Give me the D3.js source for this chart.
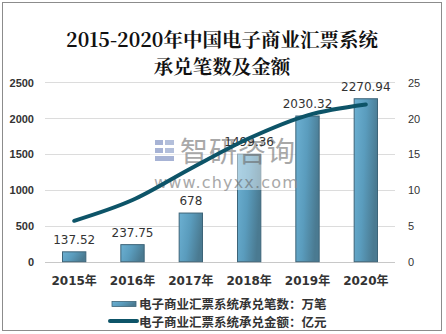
<!DOCTYPE html>
<html><head><meta charset="utf-8">
<script src="https://cdn.jsdelivr.net/npm/d3@7/dist/d3.min.js"></script>
<style>body{margin:0;background:#fff}svg{display:block}</style>
</head><body>
<script>
const categories = ["2015年","2016年","2017年","2018年","2019年","2020年"];
const countValues = [137.52, 237.75, 678, 1499.36, 2030.32, 2270.94];
const amountValues = [5.7, 8.6, 13.0, 17.2, 20.4, 21.9];
const leftTicks = [0, 500, 1000, 1500, 2000, 2500];
const rightTicks = [0, 5, 10, 15, 20, 25];
const titleLines = ["2015-2020年中国电子商业汇票系统", "承兑笔数及金额"];
const legendLabels = ["电子商业汇票系统承兑笔数：万笔", "电子商业汇票系统承兑金额：亿元"];

const W = 446, H = 334;
const svg = d3.select("body").append("svg").attr("width", W).attr("height", H);
const defs = svg.append("defs");
const g1 = defs.append("linearGradient").attr("id","barGrad").attr("x1","0").attr("x2","1").attr("y1","0").attr("y2","0.3");
g1.append("stop").attr("offset","0").attr("stop-color","#6cb0d2");
g1.append("stop").attr("offset","0.5").attr("stop-color","#5a9cbd");
g1.append("stop").attr("offset","1").attr("stop-color","#4a7a91");

svg.append("rect").attr("x",2.5).attr("y",2.5).attr("width",439).attr("height",328)
  .attr("fill","#fff").attr("stroke","#8c8c8c").attr("stroke-width",1);

const m = {left:45, right:395, top:82.3, bottom:261.7};
const x = d3.scaleBand().domain(categories).range([m.left, m.right]).paddingInner(0.6).paddingOuter(0.3);
const yL = d3.scaleLinear().domain([0,2500]).range([m.bottom, m.top]);
const yR = d3.scaleLinear().domain([0,25]).range([m.bottom, m.top]);

// title
svg.append("g").selectAll("text").data(titleLines).join("text")
  .attr("x", 222).attr("y", (d,i)=> 47 + i*26.5)
  .attr("text-anchor","middle")
  .attr("font-family","'Noto Serif CJK SC','DejaVu Serif','Noto Sans CJK SC',serif")
  .attr("font-size", 19.5).attr("font-weight","bold").attr("fill","#111")
  .text(d=>d);

// gridlines
svg.append("g").selectAll("line").data(leftTicks).join("line")
  .attr("x1", m.left).attr("x2", m.right)
  .attr("y1", d=>Math.round(yL(d))+0.5).attr("y2", d=>Math.round(yL(d))+0.5)
  .attr("stroke", d=> d===0 ? "#c8c8c8" : "#dcdcdc").attr("stroke-width",1);

// left axis
const axL = svg.append("g").attr("transform",`translate(${m.left-8},0)`)
  .call(d3.axisLeft(yL).tickValues(leftTicks).tickSize(0).tickFormat(d3.format("d")));
axL.select(".domain").remove();
axL.selectAll("text").attr("font-family","'Liberation Sans Narrow','Liberation Sans',Arial,sans-serif")
  .attr("font-size",11).attr("font-weight","bold").attr("fill","#333").attr("dy","0.35em");

// right axis
const axR = svg.append("g").attr("transform",`translate(${m.right+10},0)`)
  .call(d3.axisRight(yR).tickValues(rightTicks).tickSize(0));
axR.select(".domain").remove();
axR.selectAll("text").attr("font-family","'Liberation Sans',Arial,sans-serif")
  .attr("font-size",11).attr("fill","#333").attr("dy","0.35em");

// bars
svg.append("g").selectAll("rect").data(countValues).join("rect")
  .attr("x",(d,i)=>x(categories[i])).attr("width",x.bandwidth())
  .attr("y",d=>yL(d)).attr("height",d=>yL(0)-yL(d))
  .attr("fill","url(#barGrad)").attr("stroke","#3d6478").attr("stroke-width",1);

// watermark
const wm = svg.append("g").attr("opacity",0.75);
wm.append("rect").attr("x",150).attr("y",132).attr("width",145).attr("height",58).attr("fill","#fff").attr("opacity",0.6);
wm.append("rect").attr("x",155).attr("y",140).attr("width",8).attr("height",5).attr("fill","#8a9ac8");
wm.append("rect").attr("x",155).attr("y",148).attr("width",8).attr("height",5).attr("fill","#8a9ac8");
wm.append("rect").attr("x",165).attr("y",140).attr("width",9).attr("height",5).attr("fill","#9aaad0");
wm.append("rect").attr("x",165).attr("y",148).attr("width",9).attr("height",5).attr("fill","#9aaad0");
wm.append("rect").attr("x",155).attr("y",156).attr("width",19).attr("height",5).attr("fill","#8a9ac8");
wm.append("text").attr("x",180).attr("y",162).attr("font-family","'Noto Sans CJK SC',sans-serif")
  .attr("font-size",28).attr("fill","#8c8c8c").attr("letter-spacing",1).text("智研咨询");
wm.append("text").attr("x",154).attr("y",188).attr("font-family","'DejaVu Sans',sans-serif")
  .attr("font-size",16).attr("fill","#8c8c8c").attr("letter-spacing",1.2).text("www.chyxx.com");

// bar labels
svg.append("g").selectAll("text").data(countValues).join("text")
  .attr("x",(d,i)=>x(categories[i])+x.bandwidth()/2).attr("y",d=>yL(d)-8)
  .attr("text-anchor","middle")
  .attr("font-family","'DejaVu Sans',sans-serif").attr("font-size",12).attr("fill","#333")
  .text(d=>d);

// line
const line = d3.line().x((d,i)=>x(categories[i])+x.bandwidth()/2).y(d=>yR(d)).curve(d3.curveCatmullRom.alpha(0.5));
svg.append("path").datum(amountValues).attr("d",line).attr("fill","none")
  .attr("stroke","#0d5468").attr("stroke-width",4).attr("stroke-linecap","round");

// x labels
svg.append("g").selectAll("text").data(categories).join("text")
  .attr("x",d=>x(d)+x.bandwidth()/2).attr("y",285).attr("text-anchor","middle")
  .attr("font-family","'DejaVu Sans','Noto Sans CJK SC',sans-serif").attr("font-size",12)
  .attr("font-weight","bold").attr("fill","#333").text(d=>d);

// legend
const lg = svg.append("g");
lg.append("rect").attr("x",112).attr("y",301.5).attr("width",24).attr("height",5)
  .attr("fill","url(#barGrad)").attr("stroke","#3d6478").attr("stroke-width",0.8);
lg.append("line").attr("x1",110).attr("x2",137).attr("y1",321).attr("y2",321)
  .attr("stroke","#0d5468").attr("stroke-width",4).attr("stroke-linecap","round");
lg.selectAll("text").data(legendLabels).join("text")
  .attr("x",139).attr("y",(d,i)=>308.5+i*18)
  .attr("font-family","'Noto Sans CJK SC',sans-serif").attr("font-size",12.5)
  .attr("font-weight","bold").attr("fill","#333").text(d=>d);
</script>
</body></html>
